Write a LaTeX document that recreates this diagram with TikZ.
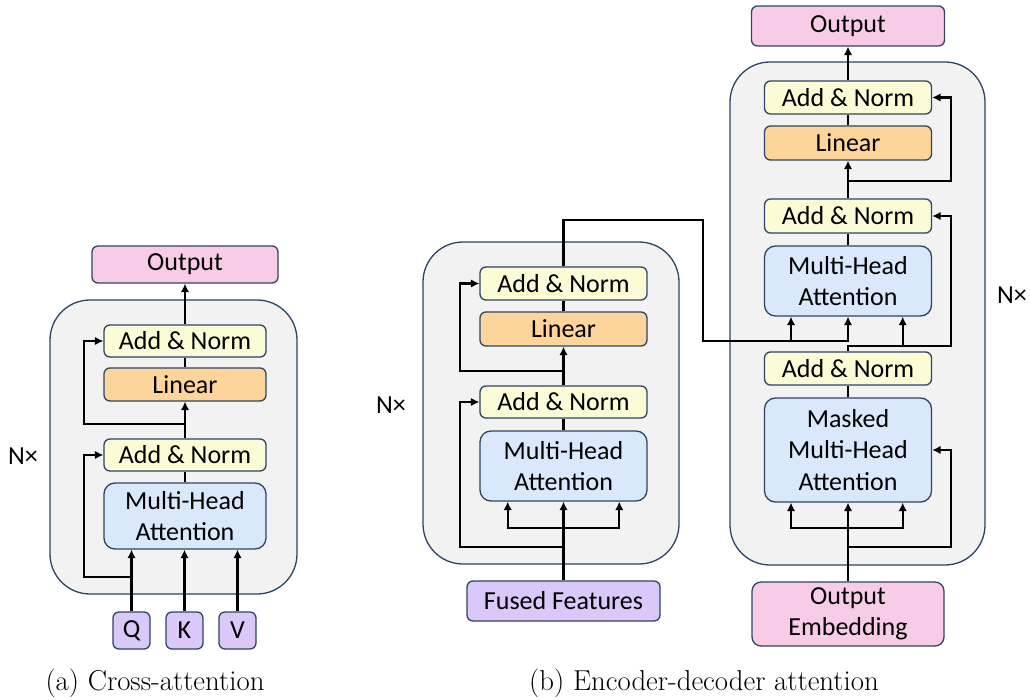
\documentclass[tikz,border=0pt]{standalone}
\usepackage{fontspec}
\newfontfamily\carl{Carlito}
\usetikzlibrary{arrows.meta,calc}
\definecolor{bord}{HTML}{2E4462}
\definecolor{anfill}{HTML}{FBFBD6}
\definecolor{linfill}{HTML}{FDD49A}
\definecolor{mhafill}{HTML}{DAE8FC}
\definecolor{outfill}{HTML}{F8CCE6}
\definecolor{purfill}{HTML}{D9C8F8}
\definecolor{contfill}{HTML}{F2F2F2}
\tikzset{
  box/.style={draw=bord, line width=1.3pt, rounded corners=6pt, inner sep=0pt, align=center,
    font=\carl\fontsize{26}{31.5}\selectfont},
  an/.style={box, fill=anfill},
  lin/.style={box, fill=linfill},
  mha/.style={box, fill=mhafill, rounded corners=11pt},
  outb/.style={box, fill=outfill},
  pur/.style={box, fill=purfill},
  cont/.style={draw=bord, line width=1.3pt, fill=contfill, rounded corners=40pt, inner sep=0pt},
  arr/.style={line width=2.3pt, -{Latex[length=8.5pt,width=8.5pt]}},
  ln/.style={line width=2.3pt},
  lbl/.style={font=\carl\fontsize{26}{31}\selectfont, inner sep=0pt},
  captxt/.style={font=\fontsize{28.8}{34}\selectfont, inner sep=0pt},
}
\begin{document}
\begin{tikzpicture}[x=1pt,y=-1pt]
\path[use as bounding box] (0,0) rectangle (1030,700);

% ---------------- (a) Cross-attention ----------------
\node[cont, minimum width=247pt, minimum height=294pt] (contA) at (173.5,447) {};
\node[outb, minimum width=186pt, minimum height=37pt] (outA) at (185,264.5) {Output};
\node[an, minimum width=162pt, minimum height=32pt] (anA2) at (185,341) {Add \& Norm};
\node[lin, minimum width=162pt, minimum height=33pt] (linA) at (185,384.5) {Linear};
\node[an, minimum width=162pt, minimum height=32pt] (anA1) at (185,455) {Add \& Norm};
\node[mha, minimum width=162pt, minimum height=66pt] (mhaA) at (185,516) {Multi-Head\\Attention};
\node[pur, minimum width=37pt, minimum height=37pt] (Q) at (131.5,630.5) {Q};
\node[pur, minimum width=37pt, minimum height=37pt] (K) at (184.5,630.5) {K};
\node[pur, minimum width=37pt, minimum height=37pt] (V) at (237.5,630.5) {V};
\node[lbl] (nA) at (23,456) {N×};

\draw[arr] (anA2.north) -- (outA.south);
\draw[ln] (linA.north) -- (anA2.south);
\draw[arr] (anA1.north) -- (linA.south);
\draw[ln] (mhaA.north) -- (anA1.south);
\draw[arr] (Q.north) -- (Q.north |- mhaA.south);
\draw[arr] (K.north) -- (K.north |- mhaA.south);
\draw[arr] (V.north) -- (V.north |- mhaA.south);
\coordinate (rA1) at (84,577);
\coordinate (rA2) at (84,424);
\draw[arr] (rA1 -| Q.north) -- (rA1) |- (anA1.west);
\draw[arr] (rA2 -| anA1.north) -- (rA2) |- (anA2.west);

\node[captxt] (capA) at (155,683) {(a) Cross-attention};

% ---------------- (b) Encoder ----------------
\node[cont, minimum width=256pt, minimum height=322pt] (contE) at (551,403) {};
\node[an, minimum width=167pt, minimum height=33pt] (anE2) at (563.5,283.5) {Add \& Norm};
\node[lin, minimum width=167pt, minimum height=34pt] (linE) at (563.5,329) {Linear};
\node[an, minimum width=167pt, minimum height=32pt] (anE1) at (563.5,402) {Add \& Norm};
\node[mha, minimum width=167pt, minimum height=70pt] (mhaE) at (563.5,466) {Multi-Head\\Attention};
\node[pur, minimum width=193pt, minimum height=40pt] (fused) at (563.5,601) {Fused Features};
\node[lbl] (nE) at (391,405) {N×};

\draw[ln] (linE.north) -- (anE2.south);
\draw[arr] (anE1.north) -- (linE.south);
\draw[ln] (mhaE.north) -- (anE1.south);
\draw[arr] (fused.north) -- (mhaE.south);
\coordinate (bE) at (507.7,528);
\coordinate (bE2) at (619.3,528);
\draw[arr] (bE -| fused.north) -- (bE) -- (bE |- mhaE.south);
\draw[arr] (bE2 -| fused.north) -- (bE2) -- (bE2 |- mhaE.south);
\coordinate (rE1) at (460,547);
\coordinate (rE2) at (460,371);
\draw[arr] (rE1 -| fused.north) -- (rE1) |- (anE1.west);
\draw[arr] (rE2 -| anE1.north) -- (rE2) |- (anE2.west);

% ---------------- (b) Decoder ----------------
\node[cont, minimum width=255pt, minimum height=503pt] (contD) at (857.5,313.5) {};
\node[outb, minimum width=193pt, minimum height=40pt] (outD) at (848,26) {Output};
\node[an, minimum width=167pt, minimum height=33pt] (anD3) at (848,97.5) {Add \& Norm};
\node[lin, minimum width=167pt, minimum height=34pt] (linD) at (848,143) {Linear};
\node[an, minimum width=167pt, minimum height=34pt] (anD2) at (848,216) {Add \& Norm};
\node[mha, minimum width=167pt, minimum height=70pt] (mhaD) at (848,281) {Multi-Head\\Attention};
\node[an, minimum width=167pt, minimum height=33pt] (anD1) at (848,368.5) {Add \& Norm};
\node[mha, minimum width=167pt, minimum height=104pt] (mmhaD) at (848,450) {Masked\\Multi-Head\\Attention};
\node[outb, minimum width=192pt, minimum height=64pt, rounded corners=9pt] (embD) at (848,614) {Output\\Embedding};
\node[lbl] (nD) at (1012,295) {N×};

\draw[arr] (anD3.north) -- (outD.south);
\draw[ln] (linD.north) -- (anD3.south);
\draw[arr] (anD2.north) -- (linD.south);
\coordinate (rD3) at (950.7,181);
\draw[arr] (rD3 -| anD2.north) -- (rD3) |- (anD3.east);
\draw[ln] (mhaD.north) -- (anD2.south);
\coordinate (rD2) at (950.7,346);
\draw[arr] (anD1.north) |- (rD2) |- (anD2.east);
\coordinate (bq) at (902.7,346);
\draw[arr] (bq) -- (bq |- mhaD.south);
% encoder output to decoder
\coordinate (e1) at (563.5,220);
\coordinate (e2) at (703,220);
\coordinate (e3) at (703,340.7);
\draw[arr] (anE2.north) -- (e1) -- (e2) -- (e3) -- (e3 -| mhaD.south) -- (mhaD.south);
\coordinate (bk) at (791,340.7);
\draw[arr] (bk) -- (bk |- mhaD.south);
\draw[ln] (mmhaD.north) -- (anD1.south);
\draw[arr] (embD.north) -- (mmhaD.south);
\coordinate (bD) at (791,528);
\coordinate (bD2) at (902.7,528);
\draw[arr] (bD -| embD.north) -- (bD) -- (bD |- mmhaD.south);
\draw[arr] (bD2 -| embD.north) -- (bD2) -- (bD2 |- mmhaD.south);
\coordinate (rD1) at (950.7,547);
\draw[arr] (rD1 -| embD.north) -- (rD1) |- (mmhaD.east);

\node[captxt] (capB) at (704,683) {(b) Encoder-decoder attention};
\end{tikzpicture}
\end{document}
